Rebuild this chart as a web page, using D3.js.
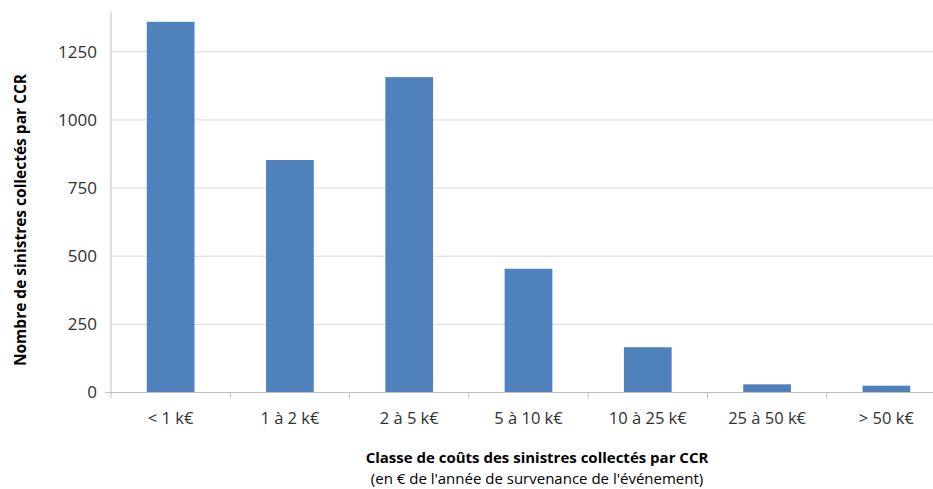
<!DOCTYPE html>
<html><head><meta charset="utf-8">
<script src="https://cdn.jsdelivr.net/npm/d3@7"></script>
<style>body{margin:0;background:#fff}svg{display:block}text{font-family:"Open Sans","Liberation Sans",sans-serif}</style>
</head><body><svg id="c" width="933" height="489"></svg>
<script>
const categories = ["< 1 k€","1 à 2 k€","2 à 5 k€","5 à 10 k€","10 à 25 k€","25 à 50 k€","> 50 k€"];
const values = [1360, 853, 1157, 454, 166, 30, 25];
const yTicks = [0, 250, 500, 750, 1000, 1250];
const yTitle = "Nombre de sinistres collectés par CCR";
const xTitle1 = "Classe de coûts des sinistres collectés par CCR";
const xTitle2 = "(en € de l'année de survenance de l'événement)";

(function(){
const svg = d3.select("#c");
const mLeft = 111, mRight = 946, mTop = 12, mBottom = 392.5;
const x = d3.scaleBand().domain(categories).range([mLeft, mRight]).paddingInner(0.6).paddingOuter(0.3);
const xb = d3.scaleBand().domain(categories).range([mLeft, mRight]);
const y = d3.scaleLinear().domain([0, 1396]).range([mBottom, mTop]);

svg.append("g").selectAll("line").data(yTicks.filter(d=>d>0)).join("line")
  .attr("x1", mLeft).attr("x2", mRight).attr("y1", d=>y(d)).attr("y2", d=>y(d))
  .attr("stroke", "#d9d9d9").attr("stroke-width", 1);

svg.append("g").selectAll("rect").data(values).join("rect")
  .attr("x", (d,i)=>x(categories[i])).attr("width", x.bandwidth())
  .attr("y", d=>y(d)).attr("height", d=>mBottom - y(d))
  .attr("fill", "#4f81bd");

svg.append("line").attr("x1", mLeft).attr("x2", mLeft).attr("y1", mTop).attr("y2", mBottom)
  .attr("stroke", "#bfbfbf");
svg.append("line").attr("x1", mLeft-6).attr("x2", mLeft).attr("y1", mBottom).attr("y2", mBottom)
  .attr("stroke", "#bfbfbf");
svg.append("g").selectAll("text").data(yTicks).join("text")
  .attr("x", 97).attr("y", d=>y(d)).attr("dy", "0.35em").attr("text-anchor", "end")
  .attr("font-size", 17).attr("fill", "#303030").text(d=>d);

svg.append("line").attr("x1", mLeft).attr("x2", mRight).attr("y1", mBottom).attr("y2", mBottom)
  .attr("stroke", "#bfbfbf");
svg.append("g").selectAll("line").data(categories.concat(["end"])).join("line")
  .attr("x1", (d,i)=> i < categories.length ? xb(d) : mRight)
  .attr("x2", (d,i)=> i < categories.length ? xb(d) : mRight)
  .attr("y1", mBottom).attr("y2", mBottom+6).attr("stroke", "#bfbfbf");
svg.append("g").selectAll("text").data(categories).join("text")
  .attr("x", d=>xb(d)+xb.bandwidth()/2).attr("y", 418).attr("dy","0.35em")
  .attr("text-anchor","middle").attr("font-size", 16.5).attr("fill", "#303030").text(d=>d);

svg.append("text").attr("transform", "translate(21,220) rotate(-90)")
  .attr("text-anchor","middle").attr("dy","0.35em").attr("font-size", 15.5).attr("font-weight","bold")
  .attr("fill","#000").text(yTitle);
svg.append("text").attr("x", 537).attr("y", 458).attr("dy","0.35em").attr("text-anchor","middle")
  .attr("font-size", 15).attr("font-weight","bold").attr("fill","#000").text(xTitle1);
svg.append("text").attr("x", 537).attr("y", 479).attr("dy","0.35em").attr("text-anchor","middle")
  .attr("font-size", 15).attr("fill","#000").text(xTitle2);
})();
</script></body></html>
